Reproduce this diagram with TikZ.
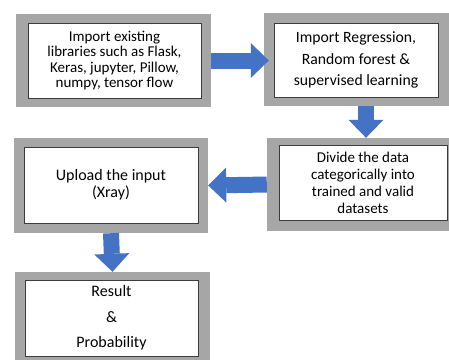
\documentclass[tikz,border=0pt]{standalone}
\usepackage{fontspec}
\setmainfont{Carlito}
\usepackage{tikz}
\usetikzlibrary{positioning, calc, arrows.meta}
\definecolor{framegray}{RGB}{166, 166, 166}
\definecolor{arrowblue}{RGB}{68, 114, 196}
\definecolor{edgedark}{RGB}{60, 60, 60}
\tikzset{
    framebox/.style={
        rectangle, fill=framegray, inner sep=0pt
    },
    procbox/.style={
        rectangle, draw=edgedark, line width=0.7pt, fill=white, align=center, inner sep=0pt
    },
    flowarrow/.style={
        line width=16pt, arrowblue, -{Triangle[length=18pt, width=35pt, line width=0pt]}
    }
}

\begin{document}
\begin{tikzpicture}[
        x=1pt, y=-1pt,
        font=\fontsize{15}{17}\selectfont
    ]
        \useasboundingbox (0,0) rectangle (449,360);

        % --- GRAY FRAMES ---
        \node[framebox, minimum width=195pt, minimum height=93pt] (frm1) at (113.5,60.5) {};
        \node[framebox, minimum width=185pt, minimum height=93pt] (frm2) at (356.5,59.5) {};
        \node[framebox, minimum width=182pt, minimum height=93pt] (frm3) at (358,184.5) {};
        \node[framebox, minimum width=194pt, minimum height=95pt] (frm4) at (111,185.5) {};
        \node[framebox, minimum width=195pt, minimum height=88pt] (frm5) at (112.5,316) {};

        % --- WHITE BOXES WITH TEXT ---
        \node[procbox, minimum width=173pt, minimum height=75pt, font=\fontsize{15}{15.5}\selectfont] (libs) at (114.5,60.5)
            {Import existing\\libraries such as Flask,\\Keras, jupyter, Pillow,\\numpy, tensor flow};
        \node[procbox, minimum width=164pt, minimum height=74pt, font=\fontsize{15.7}{21.5}\selectfont] (models) at (356,60)
            {Import Regression,\\Random forest \&\\supervised learning};
        \node[procbox, minimum width=168pt, minimum height=75pt] (split) at (363,182.5)
            {Divide the data\\categorically into\\trained and valid\\datasets};
        \node[procbox, minimum width=174pt, minimum height=76pt, font=\fontsize{16}{17}\selectfont] (upload) at (111,185)
            {Upload the input\\(Xray)};
        \node[procbox, minimum width=173pt, minimum height=76pt, font=\fontsize{16}{25.5}\selectfont] (result) at (111.5,318)
            {Result\\\&\\Probability};

        % --- BLOCK ARROWS ---
        \coordinate (a1end) at ([xshift=5pt]frm2.west);
        \coordinate (a2top) at ([xshift=9.5pt]frm2.south);
        \draw[flowarrow] (frm1.east) -- (a1end |- frm1.east);
        \draw[flowarrow] (a2top) -- (a2top |- frm3.north);
        \draw[flowarrow] (frm3.west) -- (frm4.east);
        \draw[flowarrow] (frm4.south) -- (frm5.north);

    \end{tikzpicture}
\end{document}
